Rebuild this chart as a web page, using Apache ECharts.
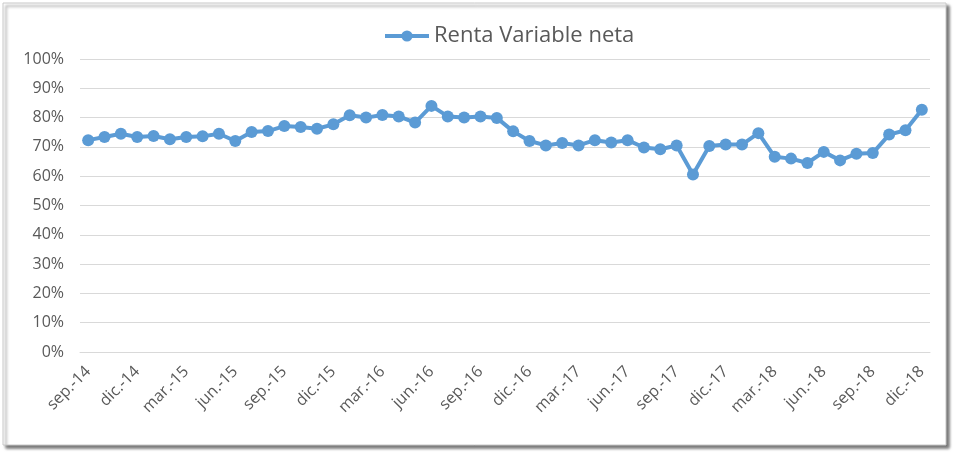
<!DOCTYPE html>
<html><head><meta charset="utf-8">
<script src="https://cdn.jsdelivr.net/npm/echarts@6/dist/echarts.min.js"></script>
<style>html,body{margin:0;padding:0;background:#fff}#c{width:960px;height:455px}</style>
</head><body><div id="c"></div>
<script>
const categories = [
 'sep.-14','oct.-14','nov.-14','dic.-14',
 'ene.-15','feb.-15','mar.-15','abr.-15','may.-15','jun.-15','jul.-15','ago.-15','sep.-15','oct.-15','nov.-15','dic.-15',
 'ene.-16','feb.-16','mar.-16','abr.-16','may.-16','jun.-16','jul.-16','ago.-16','sep.-16','oct.-16','nov.-16','dic.-16',
 'ene.-17','feb.-17','mar.-17','abr.-17','may.-17','jun.-17','jul.-17','ago.-17','sep.-17','oct.-17','nov.-17','dic.-17',
 'ene.-18','feb.-18','mar.-18','abr.-18','may.-18','jun.-18','jul.-18','ago.-18','sep.-18','oct.-18','nov.-18','dic.-18'
];
const rentaVariableNeta = [
 72.3,73.4,74.5,73.4,73.7,72.6,73.4,73.6,74.5,72.0,75.1,75.4,77.1,76.8,76.2,77.7,
 80.8,80.0,80.9,80.4,78.3,84.0,80.4,80.0,80.4,79.9,75.3,72.0,70.5,71.3,70.5,72.3,
 71.5,72.3,69.8,69.2,70.5,60.6,70.3,70.8,70.8,74.7,66.6,66.0,64.5,68.3,65.4,67.7,
 67.9,74.2,75.7,82.7
];
const seriesName = 'Renta Variable neta';
const font = '"Open Sans", sans-serif';
const chart = echarts.init(document.getElementById('c'));
chart.setOption({
  animation: false,
  textStyle: {fontFamily: font},
  graphic: [{
    type: 'rect', z: -10, silent: true,
    shape: {x: 3, y: 3, width: 943, height: 442},
    style: {fill: '#fff', stroke: '#c8c8c8', lineWidth: 1,
      shadowBlur: 3, shadowOffsetX: 3, shadowOffsetY: 3, shadowColor: 'rgba(0,0,0,0.55)'}
  }],
  legend: {
    top: 20, left: 378,
    itemWidth: 44, itemHeight: 14, itemGap: 5,
    lineStyle: {width: 4},
    textStyle: {fontSize: 22, color: '#595959', fontFamily: font},
    data: [seriesName]
  },
  grid: {left: 80, right: 30, top: 59, bottom: 103},
  xAxis: {
    type: 'category', data: categories, boundaryGap: true,
    axisLine: {lineStyle: {color: '#d9d9d9'}},
    axisTick: {interval: 2, length: 5, lineStyle: {color: '#d9d9d9'}},
    axisLabel: {interval: 2, rotate: 45, fontSize: 16, color: '#595959', fontFamily: font, margin: 17}
  },
  yAxis: {
    type: 'value', min: 0, max: 100, interval: 10,
    axisLabel: {formatter: '{value}%', fontSize: 16, color: '#595959', fontFamily: font, margin: 16},
    splitLine: {lineStyle: {color: '#d9d9d9'}},
    axisLine: {show: false}, axisTick: {show: false}
  },
  series: [{
    name: seriesName, type: 'line', data: rentaVariableNeta,
    symbol: 'circle', symbolSize: 12, showAllSymbol: true,
    itemStyle: {color: '#5B9BD5'},
    lineStyle: {color: '#5B9BD5', width: 4}
  }]
});
</script></body></html>
